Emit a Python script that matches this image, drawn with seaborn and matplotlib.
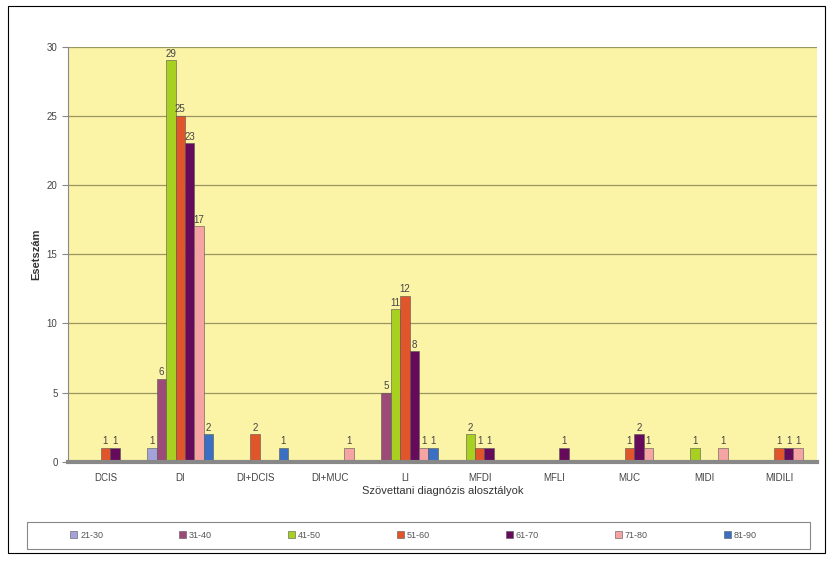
import pandas as pd
import matplotlib.pyplot as plt
import seaborn as sns

# data
categories = ["DCIS", "DI", "DI+DCIS", "DI+MUC", "LI", "MFDI", "MFLI", "MUC", "MIDI", "MIDILI"]
age_groups = ["21-30", "31-40", "41-50", "51-60", "61-70", "71-80", "81-90"]

v_21_30 = [0, 1, 0, 0, 0, 0, 0, 0, 0, 0]
v_31_40 = [0, 6, 0, 0, 5, 0, 0, 0, 0, 0]
v_41_50 = [0, 29, 0, 0, 11, 2, 0, 0, 1, 0]
v_51_60 = [1, 25, 2, 0, 12, 1, 0, 1, 0, 1]
v_61_70 = [1, 23, 0, 0, 8, 1, 1, 2, 0, 1]
v_71_80 = [0, 17, 0, 1, 1, 0, 0, 1, 1, 1]
v_81_90 = [0, 2, 1, 0, 1, 0, 0, 0, 0, 0]

colors = ["#a3a3d9", "#9c4a78", "#a8d020", "#e0552a", "#660a5c", "#f5a3a3", "#3a6fc4"]

series = [v_21_30, v_31_40, v_41_50, v_51_60, v_61_70, v_71_80, v_81_90]
rows = []
for grp, vals in zip(age_groups, series):
    for cat, v in zip(categories, vals):
        rows.append({"Diagnózis": cat, "Korcsoport": grp, "Esetszám": v})
df = pd.DataFrame(rows)

sns.set_style("white")
plt.rcParams["font.family"] = ["Liberation Sans", "DejaVu Sans"]

fig = plt.figure(figsize=(8.29, 5.61), dpi=100)
ax = fig.add_axes([0.082, 0.177, 0.903, 0.74])

sns.barplot(data=df, x="Diagnózis", y="Esetszám", hue="Korcsoport",
            order=categories, hue_order=age_groups, palette=colors, saturation=1,
            width=0.88, edgecolor="#555555", linewidth=0.4, ax=ax, legend=True)

for cont in ax.containers:
    labels = [f"{int(b.get_height())}" if b.get_height() > 0 else "" for b in cont]
    ax.bar_label(cont, labels=labels, padding=1, fontsize=7, color="#444444")

ax.set_facecolor("#fbf3a6")
ax.set_ylim(0, 30)
ax.set_xlim(-0.5, len(categories) - 0.5)
ax.set_yticks(range(0, 31, 5))
ax.yaxis.grid(True, color="#9a9660", linewidth=0.9)
ax.set_axisbelow(True)
for s in ["top", "right"]:
    ax.spines[s].set_visible(False)
ax.spines["left"].set_color("#888888")
ax.spines["bottom"].set_color("#888888")
ax.spines["bottom"].set_linewidth(3)

ax.set_xticks([i - 0.5 for i in range(len(categories) + 1)], minor=True)
ax.tick_params(axis="x", which="minor", length=4, color="#888888")
ax.tick_params(axis="x", which="major", length=0, labelsize=7, labelcolor="#444444", pad=8)
ax.tick_params(axis="y", length=4, color="#888888", labelsize=7, labelcolor="#444444", left=True)

ax.set_xlabel("Szövettani diagnózis alosztályok", fontsize=8, color="#333333", labelpad=2)
ax.set_ylabel("Esetszám", fontsize=8, color="#333333", fontweight="bold")

# legend spread evenly across a framed strip below the chart
handles, labels = ax.get_legend_handles_labels()
ax.legend_.remove()
leg = fig.legend(handles, labels, loc="center", mode="expand",
                 bbox_to_anchor=(0.0748, 0.0214, 0.848, 0.048),
                 ncol=7, fontsize=6.5, frameon=False,
                 handlelength=0.8, handleheight=0.8, handletextpad=0.3)
for t in leg.get_texts():
    t.set_color("#555555")
fig.patches.append(plt.Rectangle((0.0326, 0.0214), 0.9445, 0.048, transform=fig.transFigure,
                                 fill=False, edgecolor="#888888", linewidth=0.8))

fig.patches.append(plt.Rectangle((0.01, 0.015), 0.985, 0.975, transform=fig.transFigure,
                                 fill=False, edgecolor="black", linewidth=0.8))

fig.savefig("out.png", dpi=100, facecolor="white")
